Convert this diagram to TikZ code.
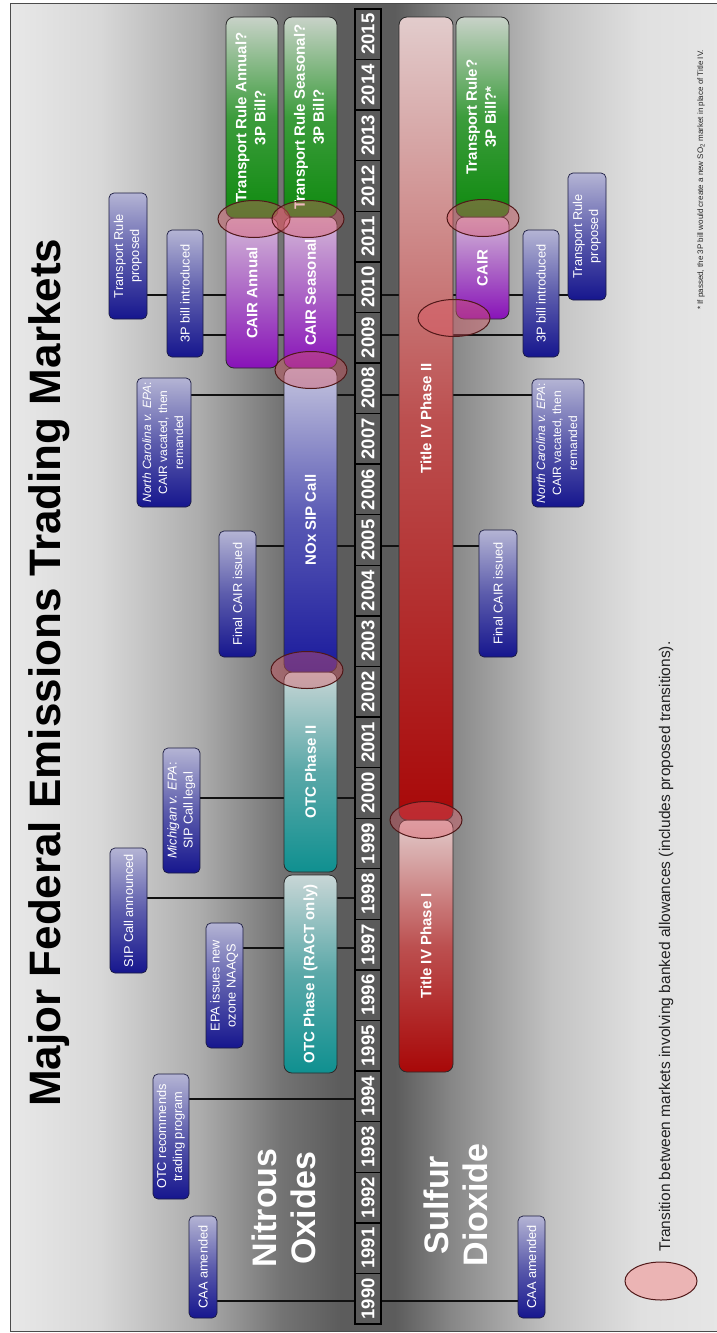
\documentclass[tikz,border=0pt]{standalone}
\usepackage{fontspec}
\setmainfont{Liberation Sans}
\usepackage{graphicx}
\usetikzlibrary{shapes.geometric}
\definecolor{bgA}{HTML}{E8E8E8}
\definecolor{bgB}{HTML}{D8D8D8}
\definecolor{bgC}{HTML}{ACACAC}
\definecolor{bgD}{HTML}{747474}
\definecolor{bgE}{HTML}{5C5C5C}
\definecolor{bgF}{HTML}{868686}
\definecolor{bgG}{HTML}{C2C2C2}
\definecolor{bgH}{HTML}{E0E0E0}
\definecolor{bgI}{HTML}{E6E6E6}
\definecolor{yrFill}{HTML}{5A5A5A}
\definecolor{barLine}{HTML}{2A2A2A}
\definecolor{evLine}{HTML}{1A1A40}
\definecolor{evTop}{HTML}{B4B4D4}
\definecolor{evMid}{HTML}{5C5CAC}
\definecolor{evBot}{HTML}{16168E}
\definecolor{grTop}{HTML}{C8D2C8}
\definecolor{grMid}{HTML}{3C9C3C}
\definecolor{grBot}{HTML}{0F8A0F}
\definecolor{puTop}{HTML}{D4B8D8}
\definecolor{puMid}{HTML}{AC66C6}
\definecolor{puBot}{HTML}{8812B8}
\definecolor{blTop}{HTML}{C4C4DE}
\definecolor{blMid}{HTML}{5858B4}
\definecolor{blBot}{HTML}{1A1A9C}
\definecolor{teTop}{HTML}{C8D6D6}
\definecolor{teMid}{HTML}{5AA8A8}
\definecolor{teBot}{HTML}{0F9090}
\definecolor{reTop}{HTML}{E2CCCC}
\definecolor{reMid}{HTML}{BC5050}
\definecolor{reBot}{HTML}{A80808}
\definecolor{trFill}{HTML}{DC5A66}
\definecolor{trLine}{HTML}{501818}
\definecolor{legFill}{HTML}{EBB4B4}
\definecolor{connC}{HTML}{111111}
\definecolor{legText}{HTML}{222222}
\pgfdeclarelayer{bg}
\pgfdeclarelayer{conn}
\pgfsetlayers{bg,conn,main}
\begin{document}
\begin{tikzpicture}[x=1pt,y=1pt,
  bar/.style={draw=barLine, line width=0.8pt, rounded corners=8pt, inner sep=0pt,
    text=white, font=\fontsize{15}{19}\selectfont\bfseries},
  greenbar/.style={bar, top color=grTop, bottom color=grBot, middle color=grMid},
  purplebar/.style={bar, top color=puTop, bottom color=puBot, middle color=puMid},
  bluebar/.style={bar, top color=blTop, bottom color=blBot, middle color=blMid},
  tealbar/.style={bar, top color=teTop, bottom color=teBot, middle color=teMid},
  redbar/.style={bar, top color=reTop, bottom color=reBot, middle color=reMid},
  evbox/.style={draw=evLine, line width=0.7pt, rounded corners=5pt, inner sep=0pt,
    text=white, top color=evTop, bottom color=evBot, middle color=evMid,
    font=\fontsize{12.8}{16}\selectfont},
  ncbox/.style={evbox, font=\fontsize{12}{16}\selectfont},
  yearbox/.style={draw=black, line width=1.4pt, fill=yrFill, minimum width=26pt,
    minimum height=50.58pt, inner sep=0pt, text=white, font=\fontsize{18.5}{20}\selectfont\bfseries},
  trans/.style={ellipse, minimum width=72pt, minimum height=37pt, inner sep=0pt,
    fill=trFill, fill opacity=0.42, draw=trLine, draw opacity=1, line width=1pt},
  conn/.style={line width=1.6pt, draw=connC}
]
\useasboundingbox (0,0) rectangle (716,-1333);
\begin{pgfonlayer}{bg}
\fill[white] (0,0) rectangle (716,-1333);
\foreach \xa/\xb/\ca/\cb in {10/100/bgA/bgB, 100/200/bgB/bgC, 200/280/bgC/bgD, 280/340/bgD/bgE, 340/395/bgE/bgE, 395/450/bgE/bgF, 450/550/bgF/bgG, 550/640/bgG/bgH, 640/720/bgH/bgI}
  \shade[left color=\ca, right color=\cb] (\xa,-3) rectangle (\xb+0.6,-1331);
\draw[line width=0.8pt, black!70] (10,-3) rectangle (730,-1331);
\end{pgfonlayer}

% title and section labels
\node[rotate=90, anchor=base west, inner sep=0pt, font=\fontsize{44}{50}\selectfont\bfseries] (title) at (60,-1107) {Major Federal Emissions Trading Markets};
\node[rotate=90, align=center, inner sep=0pt, text=white, font=\fontsize{34}{39}\selectfont\bfseries] (nox) at (284,-1208) {Nitrous\\Oxides};
\node[rotate=90, align=center, inner sep=0pt, text=white, font=\fontsize{34}{39}\selectfont\bfseries] (so2) at (456,-1205) {Sulfur\\Dioxide};

% timeline
\foreach \k in {0,...,25}{
  \pgfmathsetmacro{\yc}{-1324+50.58*(\k+0.5)}
  \pgfmathtruncatemacro{\yr}{1990+\k}
  \node[yearbox] (y\yr) at (368,\yc) {\rotatebox{90}{\yr}};
}

% NOx bars
\node[tealbar, minimum width=53pt, minimum height=198pt] (otc1) at (310.5,-974) {\rotatebox{90}{OTC Phase I (RACT only)}};
\node[tealbar, minimum width=53pt, minimum height=200pt] (otc2) at (310.5,-772) {\rotatebox{90}{OTC Phase II}};
\node[bluebar, minimum width=53pt, minimum height=304pt] (noxsip) at (310.5,-520) {\rotatebox{90}{NOx SIP Call}};
\node[purplebar, minimum width=53pt, minimum height=151pt] (cairs) at (310.5,-292.5) {\rotatebox{90}{CAIR Seasonal}};
\node[greenbar, minimum width=53pt, minimum height=200pt] (trs) at (310.5,-117) {\rotatebox{90}{\begin{tabular}{@{}c@{}}Transport Rule Seasonal?\\3P Bill?\end{tabular}}};
\node[purplebar, minimum width=52pt, minimum height=150pt] (caira) at (252,-293) {\rotatebox{90}{CAIR Annual}};
\node[greenbar, minimum width=52pt, minimum height=201pt] (tra) at (252,-117.5) {\rotatebox{90}{\begin{tabular}{@{}c@{}}Transport Rule Annual?\\3P Bill?\end{tabular}}};

% SO2 bars
\node[redbar, minimum width=54pt, minimum height=252pt] (tiv1) at (426,-946) {\rotatebox{90}{Title IV Phase I}};
\node[redbar, minimum width=54pt, minimum height=803pt] (tiv2) at (426,-418.5) {\rotatebox{90}{Title IV Phase II}};
\node[purplebar, minimum width=53pt, minimum height=102pt] (cairso) at (482.5,-268) {\rotatebox{90}{CAIR}};
\node[greenbar, minimum width=53pt, minimum height=200pt] (trso) at (482.5,-117) {\rotatebox{90}{\begin{tabular}{@{}c@{}}Transport Rule?\\3P Bill?*\end{tabular}}};

% transitions
\node[trans] (t1) at (254,-219) {};
\node[trans] (t2) at (308,-219) {};
\node[trans] (t3) at (311,-370) {};
\node[trans] (t4) at (307,-670) {};
\node[trans] (t5) at (426,-820) {};
\node[trans] (t6) at (454,-318) {};
\node[trans] (t7) at (483,-218) {};

% NOx events
\node[evbox, minimum width=28pt, minimum height=102pt] (e1) at (203,-1267) {\rotatebox{90}{CAA amended}};
\node[evbox, minimum width=36pt, minimum height=125pt] (e2) at (171,-1136.5) {\rotatebox{90}{\begin{tabular}{@{}c@{}}OTC recommends\\trading program\end{tabular}}};
\node[evbox, minimum width=37pt, minimum height=125pt] (e3) at (224.5,-985.5) {\rotatebox{90}{\begin{tabular}{@{}c@{}}EPA issues new\\ozone NAAQS\end{tabular}}};
\node[evbox, minimum width=37pt, minimum height=125pt] (e4) at (128.5,-910.5) {\rotatebox{90}{SIP Call announced}};
\node[evbox, minimum width=37pt, minimum height=125pt] (e5) at (181.5,-810.5) {\rotatebox{90}{\begin{tabular}{@{}c@{}}\textit{Michigan v. EPA}:\\SIP Call legal\end{tabular}}};
\node[evbox, minimum width=37pt, minimum height=126pt] (e6) at (237.5,-594) {\rotatebox{90}{Final CAIR issued}};
\node[ncbox, minimum width=54pt, minimum height=129pt] (e7) at (164,-442.5) {\rotatebox{90}{\begin{tabular}{@{}c@{}}\textit{North Carolina v. EPA}:\\CAIR vacated, then\\remanded\end{tabular}}};
\node[evbox, minimum width=36pt, minimum height=127pt] (e8) at (185,-293.5) {\rotatebox{90}{3P bill introduced}};
\node[evbox, minimum width=38pt, minimum height=126pt] (e9) at (128,-256) {\rotatebox{90}{\begin{tabular}{@{}c@{}}Transport Rule\\proposed\end{tabular}}};

% SO2 events
\node[evbox, minimum width=27pt, minimum height=102pt] (s1) at (531.5,-1267) {\rotatebox{90}{CAA amended}};
\node[evbox, minimum width=38pt, minimum height=127pt] (s2) at (498,-593.5) {\rotatebox{90}{Final CAIR issued}};
\node[ncbox, minimum width=52pt, minimum height=128pt] (s3) at (558,-443) {\rotatebox{90}{\begin{tabular}{@{}c@{}}\textit{North Carolina v. EPA}:\\CAIR vacated, then\\remanded\end{tabular}}};
\node[evbox, minimum width=36pt, minimum height=127pt] (s4) at (541,-293.5) {\rotatebox{90}{3P bill introduced}};
\node[evbox, minimum width=38pt, minimum height=127pt] (s5) at (587,-236.5) {\rotatebox{90}{\begin{tabular}{@{}c@{}}Transport Rule\\proposed\end{tabular}}};

% connector heights
\coordinate (h1990) at (0,-1301);
\coordinate (h1994) at (0,-1099);
\coordinate (h1997) at (0,-948);
\coordinate (h1998) at (0,-898);
\coordinate (h2000) at (0,-798);
\coordinate (h2005) at (0,-546);
\coordinate (h2008) at (0,-395);
\coordinate (h2009) at (0,-335);
\coordinate (h2010) at (0,-295);

\begin{pgfonlayer}{conn}
\draw[conn] (e1.east |- h1990) -- (y1990.west |- h1990);
\draw[conn] (e2.east |- h1994) -- (y1994.west |- h1994);
\draw[conn] (e3.east |- h1997) -- (y1997.west |- h1997);
\draw[conn] (e4.east |- h1998) -- (y1998.west |- h1998);
\draw[conn] (e5.east |- h2000) -- (y2000.west |- h2000);
\draw[conn] (e6.east |- h2005) -- (y2005.west |- h2005);
\draw[conn] (e7.east |- h2008) -- (y2008.west |- h2008);
\draw[conn] (e8.east |- h2009) -- (y2009.west |- h2009);
\draw[conn] (e9.east |- h2010) -- (y2010.west |- h2010);
\draw[conn] (y1990.east |- h1990) -- (s1.west |- h1990);
\draw[conn] (y2005.east |- h2005) -- (s2.west |- h2005);
\draw[conn] (y2008.east |- h2008) -- (s3.west |- h2008);
\draw[conn] (y2009.east |- h2009) -- (s4.west |- h2009);
\draw[conn] (y2010.east |- h2010) -- (s5.west |- h2010);
\end{pgfonlayer}

% legend and footnote
\node[ellipse, minimum width=72pt, minimum height=38pt, inner sep=0pt, fill=legFill, draw=trLine, line width=1pt] (leg) at (661,-1281) {};
\node[rotate=90, anchor=west, inner sep=0pt, text=legText, font=\fontsize{15.5}{18}\selectfont] (legtext) at (666,-1252) {Transition between markets involving banked allowances (includes proposed transitions).};
\node[rotate=90, anchor=west, inner sep=0pt, text=black!85, font=\fontsize{8}{9}\selectfont] (foot) at (701,-310) {* If passed, the 3P bill would create a new SO\textsubscript{2} market in place of Title IV.};
\end{tikzpicture}
\end{document}
